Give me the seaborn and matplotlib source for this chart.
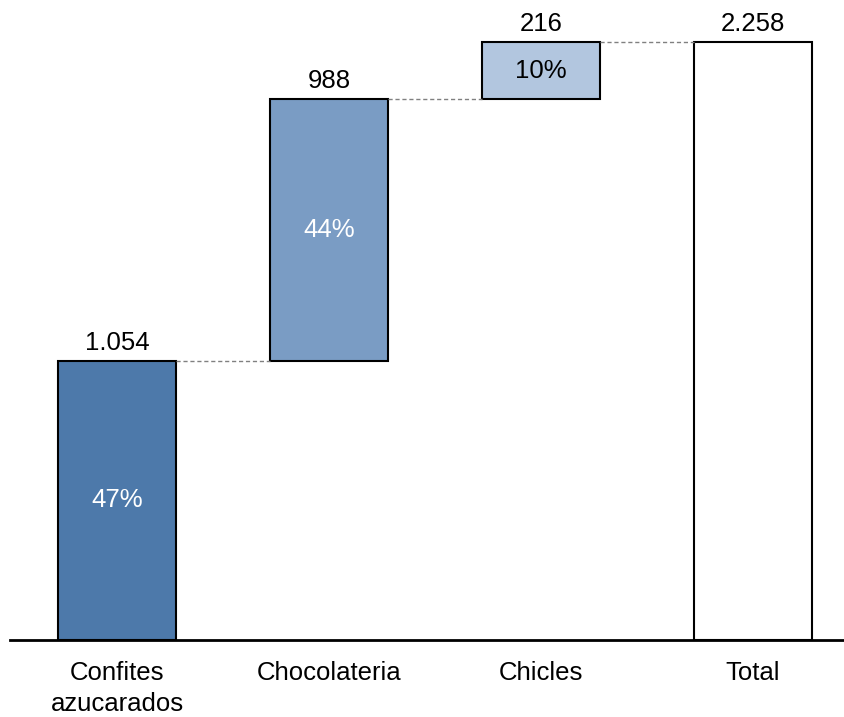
import matplotlib
matplotlib.use("Agg")
import matplotlib.pyplot as plt
import seaborn as sns
import pandas as pd

categories = ["Confites\nazucarados", "Chocolateria", "Chicles", "Total"]
values = [1054, 988, 216, 2258]
bases = [0, 1054, 2042, 0]
shares = ["47%", "44%", "10%", ""]
colors = ["#4D79AA", "#7A9CC4", "#B2C6DF", "#FFFFFF"]
share_colors = ["white", "white", "black", "black"]

sns.set_theme(style="white")
plt.rcParams["font.family"] = ["Liberation Sans", "DejaVu Sans"]

df = pd.DataFrame({"cat": categories, "val": values, "base": bases})

fig = plt.figure(figsize=(8.45, 7.17), dpi=100)
ax = fig.add_axes([10 / 845, 77 / 717, 835 / 845, 640 / 717])

width = 0.557
sns.barplot(data=df, x="cat", y="val", color="white",
            bottom=list(df["base"]), width=width, edgecolor="black",
            linewidth=1.5, saturation=1, ax=ax)
for patch, c in zip(ax.patches, colors):
    patch.set_facecolor(c)

tops = [b + v for b, v in zip(bases, values)]
for i in range(len(categories) - 1):
    ax.plot([i + width / 2, i + 1 - width / 2], [tops[i], tops[i]],
            color="#808080", linestyle=(0, (3, 2)), linewidth=1.0)

for i, (v, t, b, s) in enumerate(zip(values, tops, bases, shares)):
    ax.text(i, t + 22, f"{v:,}".replace(",", "."), ha="center", va="bottom",
            fontsize=18.5, color="black")
    if s:
        ax.text(i, b + v / 2, s, ha="center", va="center", fontsize=18.5,
                color=share_colors[i])

ax.set_xlim(-0.505, 3.434)
ax.set_ylim(0, 2417)
ax.set_xlabel("")
ax.set_ylabel("")
ax.set_yticks([])
for sp in ["top", "right", "left"]:
    ax.spines[sp].set_visible(False)
ax.spines["bottom"].set_color("black")
ax.spines["bottom"].set_linewidth(2)
ax.tick_params(axis="x", length=0, pad=15, labelsize=18.5, colors="black")
for lbl in ax.get_xticklabels():
    lbl.set_linespacing(1.38)

fig.savefig("out.png", dpi=100)
